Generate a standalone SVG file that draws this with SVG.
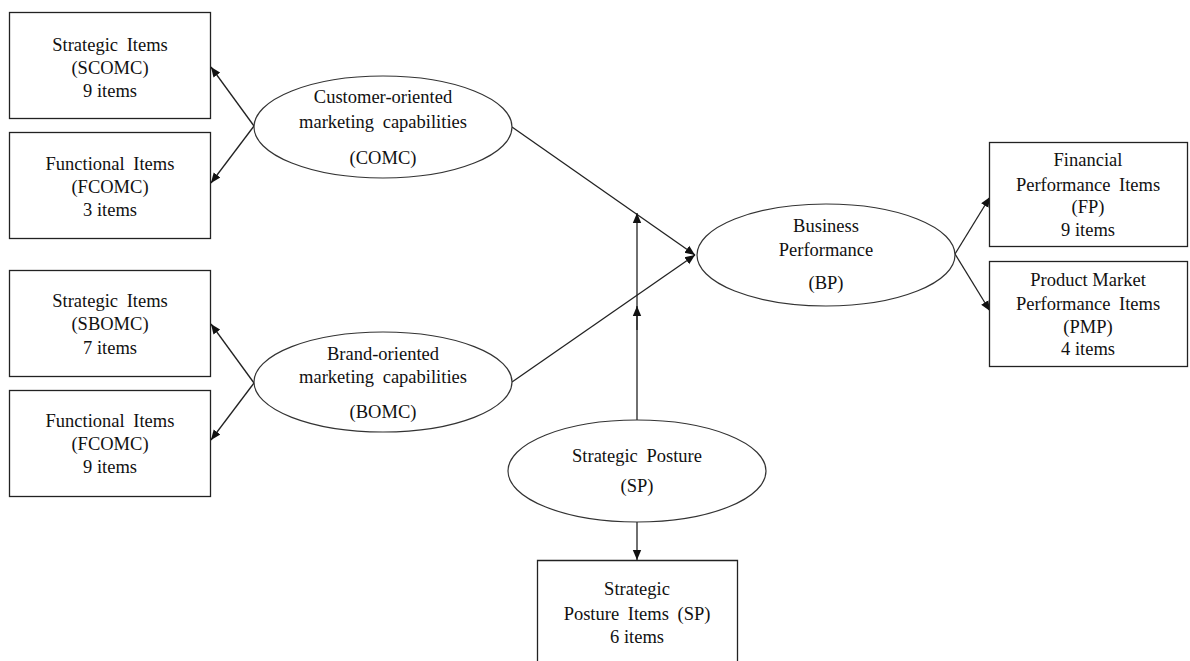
<svg xmlns="http://www.w3.org/2000/svg" width="1190" height="661" viewBox="0 0 1190 661">
  <style>
    .box { fill: #fff; stroke: #222; stroke-width: 1.3; }
    .oval { fill: #fff; stroke: #333; stroke-width: 1.2; }
    .lbl { font-family: "Liberation Serif", "Times New Roman", serif; font-size: 18.5px; fill: #111; text-anchor: middle; }
    .ws { word-spacing: 4px; }
    .edge { fill: none; stroke: #222; stroke-width: 1.3; }
  </style>
  <defs>
    <marker id="arrow" viewBox="0 0 10 10" refX="10" refY="5" markerWidth="10" markerHeight="10" markerUnits="userSpaceOnUse" orient="auto">
      <path d="M0,0.8 L10,5 L0,9.2 Z" fill="#111"/>
    </marker>
  </defs>
  <rect width="1190" height="661" fill="#fff"/>

  <g id="connectors">
    <line class="edge" x1="254" y1="126" x2="211" y2="67" marker-end="url(#arrow)"/>
    <line class="edge" x1="254" y1="126" x2="211" y2="183" marker-end="url(#arrow)"/>
    <line class="edge" x1="254" y1="383" x2="211" y2="324" marker-end="url(#arrow)"/>
    <line class="edge" x1="254" y1="383" x2="211" y2="440" marker-end="url(#arrow)"/>
    <line class="edge" x1="512" y1="127" x2="695" y2="255" marker-end="url(#arrow)"/>
    <line class="edge" x1="512" y1="382" x2="695" y2="255" marker-end="url(#arrow)"/>
    <line class="edge" x1="637" y1="420" x2="637" y2="213" marker-end="url(#arrow)"/>
    <line class="edge" x1="637" y1="330" x2="637" y2="306" marker-end="url(#arrow)"/>
    <line class="edge" x1="955" y1="254" x2="990" y2="197" marker-end="url(#arrow)"/>
    <line class="edge" x1="955" y1="254" x2="990" y2="311" marker-end="url(#arrow)"/>
    <line class="edge" x1="637" y1="522" x2="637" y2="560" marker-end="url(#arrow)"/>
  </g>

  <g id="scomc">
    <rect class="box" x="9.5" y="12.5" width="201" height="106"/>
    <text class="lbl ws" x="110" y="51">Strategic Items</text>
    <text class="lbl" x="110" y="74">(SCOMC)</text>
    <text class="lbl" x="110" y="97">9 items</text>
  </g>

  <g id="fcomc-customer">
    <rect class="box" x="9.5" y="132.5" width="201" height="106"/>
    <text class="lbl ws" x="110" y="170">Functional Items</text>
    <text class="lbl" x="110" y="193">(FCOMC)</text>
    <text class="lbl" x="110" y="216">3 items</text>
  </g>

  <g id="sbomc">
    <rect class="box" x="9.5" y="270.5" width="201" height="106"/>
    <text class="lbl ws" x="110" y="307">Strategic Items</text>
    <text class="lbl" x="110" y="330">(SBOMC)</text>
    <text class="lbl" x="110" y="354">7 items</text>
  </g>

  <g id="fcomc-brand">
    <rect class="box" x="9.5" y="390.5" width="201" height="106"/>
    <text class="lbl ws" x="110" y="427">Functional Items</text>
    <text class="lbl" x="110" y="450">(FCOMC)</text>
    <text class="lbl" x="110" y="473">9 items</text>
  </g>

  <g id="comc">
    <ellipse class="oval" cx="383" cy="127" rx="129" ry="51"/>
    <text class="lbl" x="383" y="103">Customer-oriented</text>
    <text class="lbl ws" x="383" y="128">marketing capabilities</text>
    <text class="lbl" x="383" y="164">(COMC)</text>
  </g>

  <g id="bomc">
    <ellipse class="oval" cx="383" cy="382" rx="129" ry="50"/>
    <text class="lbl" x="383" y="360">Brand-oriented</text>
    <text class="lbl ws" x="383" y="383">marketing capabilities</text>
    <text class="lbl" x="383" y="418">(BOMC)</text>
  </g>

  <g id="bp">
    <ellipse class="oval" cx="826" cy="255" rx="129" ry="51"/>
    <text class="lbl" x="826" y="232">Business</text>
    <text class="lbl" x="826" y="256">Performance</text>
    <text class="lbl" x="826" y="289">(BP)</text>
  </g>

  <g id="sp">
    <ellipse class="oval" cx="637" cy="471" rx="129" ry="51"/>
    <text class="lbl ws" x="637" y="462">Strategic Posture</text>
    <text class="lbl" x="637" y="492">(SP)</text>
  </g>

  <g id="fp">
    <rect class="box" x="989.5" y="142.5" width="198" height="104"/>
    <text class="lbl" x="1088" y="166">Financial</text>
    <text class="lbl ws" x="1088" y="191">Performance Items</text>
    <text class="lbl" x="1088" y="213">(FP)</text>
    <text class="lbl" x="1088" y="236">9 items</text>
  </g>

  <g id="pmp">
    <rect class="box" x="989.5" y="261.5" width="198" height="105"/>
    <text class="lbl" x="1088" y="286">Product Market</text>
    <text class="lbl ws" x="1088" y="310">Performance Items</text>
    <text class="lbl" x="1088" y="333">(PMP)</text>
    <text class="lbl" x="1088" y="355">4 items</text>
  </g>

  <g id="sp-items">
    <path class="box" d="M537.5,662 V560.5 H737.5 V662"/>
    <text class="lbl" x="637" y="595">Strategic</text>
    <text class="lbl ws" x="637" y="620">Posture Items (SP)</text>
    <text class="lbl" x="637" y="643">6 items</text>
  </g>
</svg>
